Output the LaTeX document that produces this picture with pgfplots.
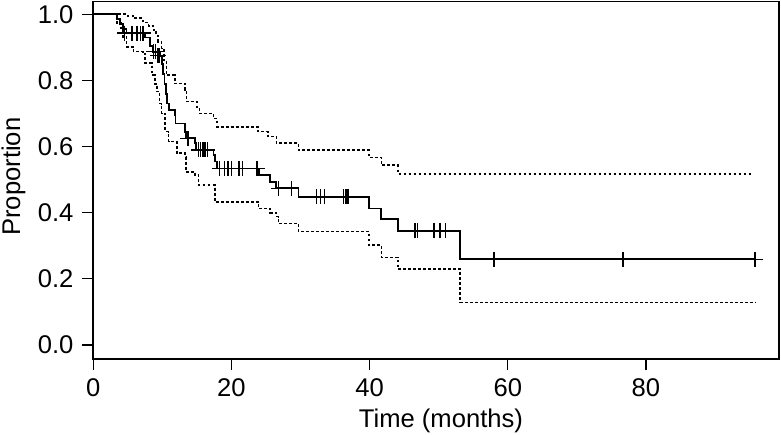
\documentclass[border=0pt]{standalone}
\usepackage{pgfplots}
\pgfplotsset{compat=1.18}
\usepackage{fontspec}
\setmainfont{Liberation Sans}
\newcommand{\ff}{\fontsize{12.8}{15}\selectfont}
\begin{document}
\ff
\begin{tikzpicture}
\useasboundingbox (0,0) rectangle (390.5pt,217pt);
\begin{axis}[
 at={(46.65pt,37.5pt)}, anchor=south west,
 scale only axis, width=343pt, height=178.75pt,
 xmin=0, xmax=99.3, ymin=-0.0423, ymax=1.0387,
 xtick={0,20,40,60,80}, ytick={0,0.2,0.4,0.6,0.8,1.0},
 yticklabel style={/pgf/number format/.cd, fixed, fixed zerofill, precision=1},
 /pgf/number format/assume math mode=true,
 every tick label/.append style={font=\ff},
 label style={font=\ff},
 tick align=outside, xtick pos=bottom, ytick pos=left,
 major tick length=5.5pt,
 tick style={black, line width=0.6pt},
 axis line style={line width=0.9pt},
 xlabel={Time (months)}, ylabel={Proportion},
 xlabel style={at={(axis description cs:0.5068,-0.193)}, anchor=base},
 ylabel style={at={(axis description cs:-0.1065,0.51)}, anchor=base},
]
% Kaplan-Meier estimate
\addplot[const plot, line width=0.9pt, mark=none] coordinates {
(0,1.0) (3.4,0.985) (3.9,0.97) (4.3,0.955) (4.8,0.943) (7.5,0.93) (8.2,0.905)
(8.6,0.887) (9.6,0.875) (9.9,0.85) (10.1,0.82) (10.3,0.79) (10.5,0.76)
(10.7,0.73) (10.9,0.71) (11.8,0.695) (11.9,0.67) (13.3,0.645) (13.4,0.625)
(14.7,0.61) (14.9,0.59) (17.4,0.575) (17.6,0.555) (17.9,0.534) (24.0,0.514)
(25.6,0.494) (26.5,0.474) (29.7,0.448) (39.9,0.413) (41.7,0.380) (44.1,0.345)
(53.1,0.259) (95.8,0.259)
};
% censoring marks
\addplot[only marks, mark=+, mark size=3.75pt, line width=0.75pt] coordinates {
(4.5,0.943) (5.6,0.943) (6.3,0.943) (6.8,0.943) (7.2,0.943)
(8.7,0.887) (9.0,0.887) (9.3,0.875) (9.5,0.875)
(13.7,0.625)
(15.2,0.59) (15.5,0.59) (15.9,0.59) (16.2,0.59) (16.5,0.59)
(18.3,0.534) (19.0,0.534) (19.5,0.534) (20.0,0.534) (21.1,0.534) (21.6,0.534) (23.7,0.534)
(26.8,0.474) (28.7,0.474)
(32.3,0.448) (32.9,0.448) (33.5,0.448) (36.2,0.448) (36.6,0.448) (36.9,0.448)
(46.6,0.345) (46.9,0.345) (49.3,0.345) (50.2,0.345) (51.0,0.345)
(58.0,0.259) (76.7,0.259) (95.8,0.259)
};
% upper confidence limit
\addplot[const plot, line width=0.8pt, dash pattern=on 1.4pt off 1.1pt, mark=none] coordinates {
(0,1.0) (5.0,0.995) (5.8,0.988) (7.2,0.975) (8.0,0.965) (8.7,0.952) (9.1,0.935)
(9.4,0.917) (9.9,0.897) (10.2,0.86) (10.6,0.816) (11.8,0.791) (13.3,0.771)
(13.5,0.736) (15.0,0.72) (15.4,0.70) (17.4,0.685) (17.9,0.66) (23.8,0.645)
(25.3,0.63) (26.5,0.61) (29.7,0.589) (39.9,0.567) (41.7,0.544) (44.1,0.517)
(95.3,0.517)
};
% lower confidence limit
\addplot[const plot, line width=0.8pt, dash pattern=on 1.4pt off 1.1pt, mark=none] coordinates {
(0,1.0) (3.4,0.973) (4.0,0.95) (4.3,0.932) (4.8,0.902) (5.8,0.887) (7.2,0.882)
(7.5,0.852) (8.5,0.816) (8.9,0.79) (9.2,0.766) (9.6,0.73) (9.9,0.70)
(10.4,0.645) (10.9,0.615) (12.1,0.58) (13.3,0.569) (13.4,0.524) (14.7,0.514)
(15.2,0.484) (17.6,0.433) (23.9,0.413) (25.6,0.40) (26.5,0.388) (26.8,0.368)
(29.7,0.343) (39.9,0.302) (41.7,0.265) (44.1,0.229) (53.1,0.128) (95.8,0.128)
};
\end{axis}
\end{tikzpicture}
\end{document}
